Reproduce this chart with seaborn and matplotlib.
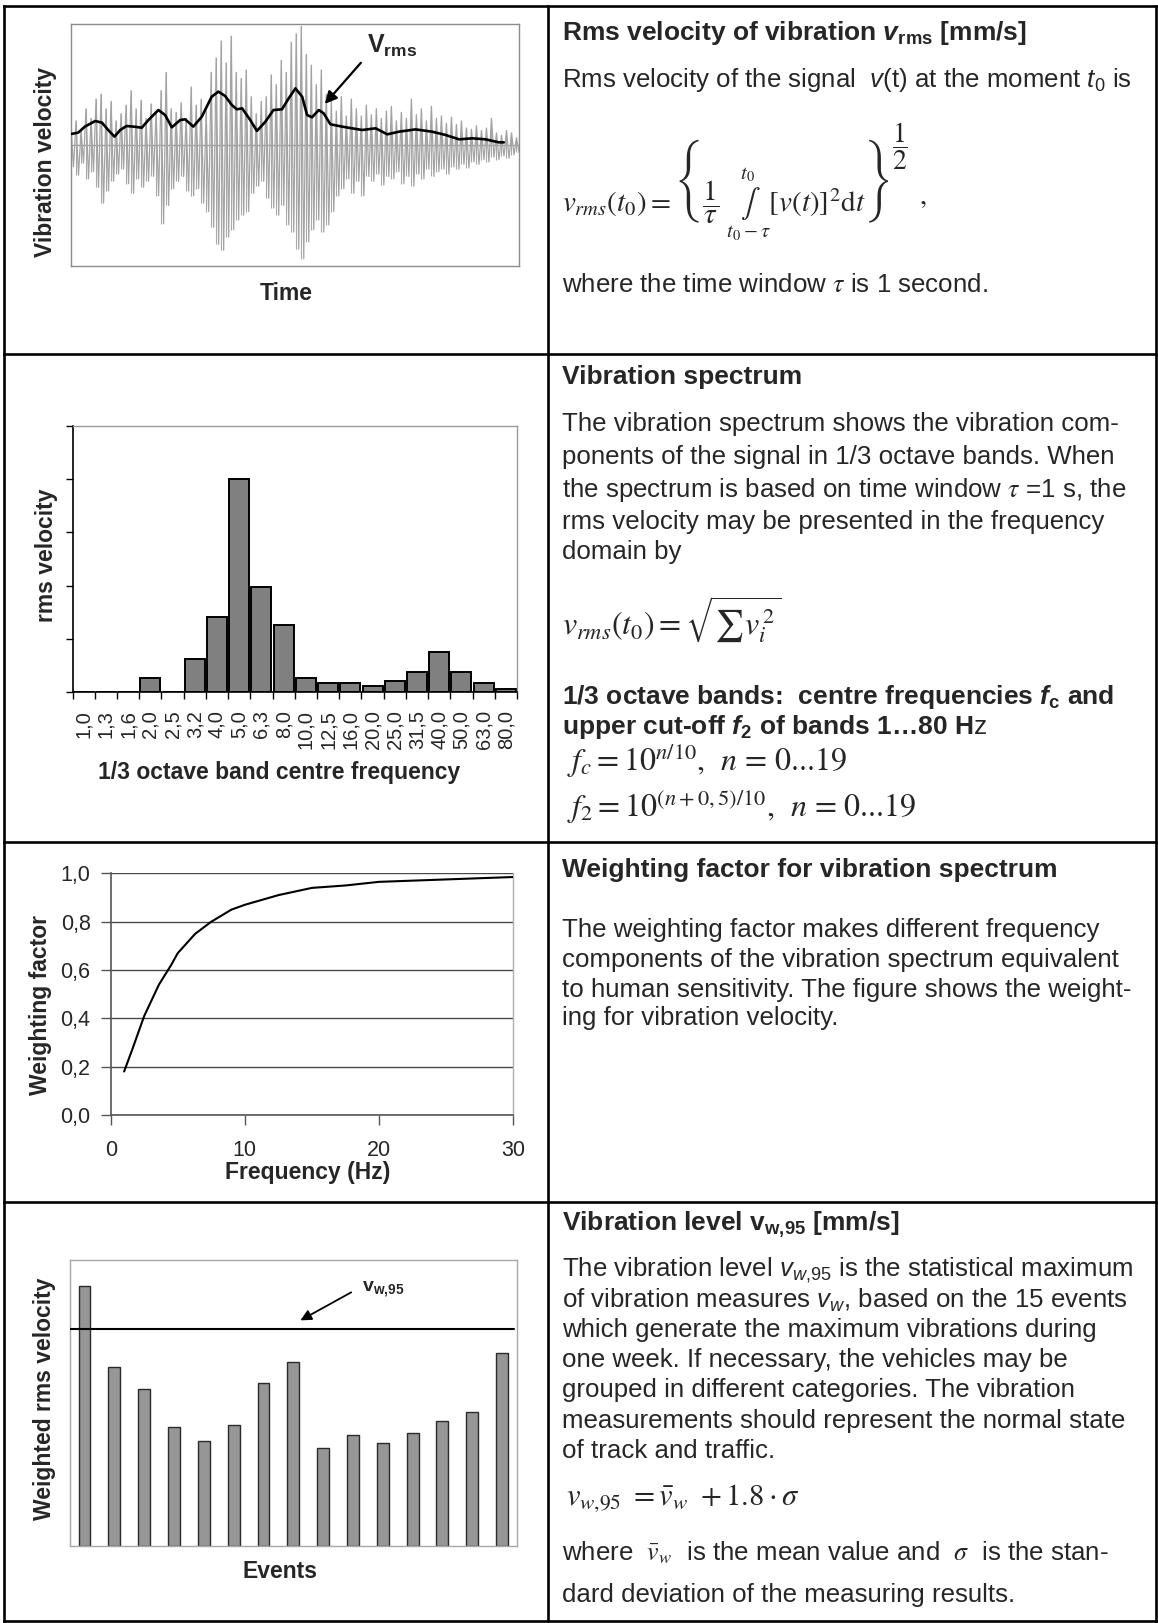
import numpy as np
import pandas as pd
import matplotlib
matplotlib.use("Agg")
import matplotlib.pyplot as plt
import seaborn as sns

# ---------------- data ----------------
# Panel 1: vibration signal, alternating positive / negative peak values (normalised)
signal_pos = [0.15, 0.20, 0.12, 0.30, 0.22, 0.38, 0.42, 0.30, 0.36, 0.20,
              0.26, 0.33, 0.45, 0.30, 0.37, 0.22, 0.34, 0.28, 0.45, 0.60,
              0.30, 0.27, 0.35, 0.22, 0.48, 0.33, 0.38, 0.28, 0.60, 0.72,
              0.86, 0.68, 0.90, 0.60, 0.55, 0.62, 0.40, 0.26, 0.36, 0.40,
              0.58, 0.50, 0.70, 0.60, 0.85, 0.92, 0.98, 0.75, 0.66, 0.50,
              0.62, 0.42, 0.36, 0.28, 0.40, 0.24, 0.38, 0.30, 0.24, 0.33,
              0.25, 0.30, 0.22, 0.28, 0.32, 0.20, 0.27, 0.22, 0.38, 0.25,
              0.30, 0.20, 0.32, 0.22, 0.24, 0.18, 0.23, 0.17, 0.20, 0.14,
              0.13, 0.16, 0.12, 0.14, 0.22, 0.10, 0.08, 0.12, 0.10, 0.06]
signal_neg = [-0.18, -0.25, -0.15, -0.28, -0.22, -0.35, -0.48, -0.38, -0.30, -0.24,
              -0.20, -0.32, -0.40, -0.28, -0.35, -0.30, -0.26, -0.42, -0.65, -0.50,
              -0.36, -0.30, -0.26, -0.38, -0.42, -0.36, -0.48, -0.55, -0.68, -0.82,
              -0.87, -0.76, -0.70, -0.62, -0.58, -0.55, -0.40, -0.34, -0.30, -0.44,
              -0.52, -0.58, -0.50, -0.66, -0.72, -0.86, -0.94, -0.80, -0.70, -0.62,
              -0.72, -0.66, -0.55, -0.42, -0.36, -0.28, -0.40, -0.30, -0.42, -0.26,
              -0.30, -0.24, -0.33, -0.26, -0.28, -0.22, -0.32, -0.26, -0.34, -0.24,
              -0.28, -0.20, -0.26, -0.22, -0.20, -0.24, -0.18, -0.20, -0.16, -0.19,
              -0.14, -0.16, -0.12, -0.14, -0.10, -0.12, -0.09, -0.11, -0.08, -0.06]
rms_time = [0.000, 0.016, 0.031, 0.054, 0.069, 0.083, 0.097, 0.110, 0.124, 0.139,
            0.158, 0.173, 0.195, 0.210, 0.225, 0.244, 0.255, 0.273, 0.292, 0.314,
            0.329, 0.344, 0.359, 0.370, 0.382, 0.400, 0.415, 0.434, 0.452, 0.471,
            0.486, 0.501, 0.516, 0.527, 0.538, 0.553, 0.564, 0.579, 0.605, 0.627,
            0.650, 0.680, 0.706, 0.732, 0.769, 0.806, 0.836, 0.866, 0.896, 0.925,
            0.955, 0.966]
rms_value = [0.091, 0.102, 0.152, 0.198, 0.185, 0.124, 0.069, 0.124, 0.157, 0.152,
             0.143, 0.207, 0.289, 0.248, 0.146, 0.207, 0.212, 0.152, 0.234, 0.399,
             0.441, 0.405, 0.331, 0.295, 0.303, 0.207, 0.116, 0.193, 0.289, 0.295,
             0.386, 0.468, 0.399, 0.248, 0.229, 0.289, 0.262, 0.171, 0.152, 0.138,
             0.124, 0.138, 0.088, 0.110, 0.129, 0.110, 0.083, 0.047, 0.055, 0.047,
             0.022, 0.022]

# Panel 2: 1/3 octave spectrum
band_labels = ["1,0", "1,3", "1,6", "2,0", "2,5", "3,2", "4,0", "5,0", "6,3", "8,0",
               "10,0", "12,5", "16,0", "20,0", "25,0", "31,5", "40,0", "50,0", "63,0", "80,0"]
band_rms = [0.0, 0.0, 0.0, 0.27, 0.0, 0.62, 1.41, 4.00, 1.97, 1.26,
            0.27, 0.16, 0.16, 0.12, 0.20, 0.38, 0.76, 0.38, 0.16, 0.05]

# Panel 3: weighting factor
wf_freq = [1, 1.6, 2.5, 3.6, 4.5, 5, 6.3, 7.5, 9, 10, 12.5, 15, 17.5, 20, 25, 30]
wf_value = [0.18, 0.27, 0.41, 0.54, 0.62, 0.67, 0.75, 0.80, 0.85, 0.87,
            0.91, 0.94, 0.95, 0.965, 0.975, 0.985]
wf_xticks = [0, 10, 20, 30]
wf_yticks = [0.0, 0.2, 0.4, 0.6, 0.8, 1.0]
wf_ylabels = ["0,0", "0,2", "0,4", "0,6", "0,8", "1,0"]

# Panel 4: weighted rms velocity per event
event_ids = list(range(1, 16))
event_values = [9.09, 6.25, 5.50, 4.15, 3.66, 4.22, 5.69, 6.43, 3.43, 3.89,
                3.59, 3.96, 4.38, 4.69, 6.75]
vw95_level = 7.6

# ---------------- style ----------------
sns.set_style("white")
plt.rcParams["font.family"] = ["Liberation Sans", "DejaVu Sans"]
plt.rcParams["mathtext.fontset"] = "custom"
plt.rcParams["mathtext.rm"] = "Liberation Sans"
plt.rcParams["mathtext.it"] = "Liberation Sans:italic"
plt.rcParams["mathtext.bf"] = "Liberation Sans:bold"
plt.rcParams["mathtext.bfit"] = "Liberation Sans:bold:italic"
plt.rcParams["mathtext.sf"] = "Liberation Sans"

W, H = 1158, 1623
fig = plt.figure(figsize=(W / 100, H / 100), dpi=100)
fig.patch.set_facecolor("white")


def axes_px(x0, y0, x1, y1):
    return fig.add_axes([x0 / W, 1 - y1 / H, (x1 - x0) / W, (y1 - y0) / H])


LAB = 16.5

# ---------- Panel 1 ----------
ax1 = axes_px(71, 24, 519, 266)
n = len(signal_pos)
sig_t = np.linspace(0, 1, 2 * n)
sig_v = np.empty(2 * n)
sig_v[0::2] = signal_pos
sig_v[1::2] = signal_neg
sig_df = pd.DataFrame({"t": sig_t, "v": sig_v})
ax1.axhline(0, color="#a0a0a0", lw=1.0, zorder=1)
ax1.vlines(sig_t[0::2], signal_neg, signal_pos, color="#a8a8a8", lw=0.8, zorder=2)
sns.lineplot(data=sig_df, x="t", y="v", sort=False, estimator=None,
             color="#a3a3a3", lw=0.9, ax=ax1, zorder=2)
sns.lineplot(x=rms_time, y=rms_value, sort=False, estimator=None,
             color="black", lw=1.9, ax=ax1, zorder=3)
ax1.set_xlim(0, 1)
ax1.set_ylim(-1, 1)
ax1.set_xticks([]); ax1.set_yticks([])
ax1.set_xlabel(""); ax1.set_ylabel("")
for s in ax1.spines.values():
    s.set_color("#8c8c8c"); s.set_linewidth(1.0); s.set_visible(True)

# ---------- Panel 2 ----------
ax2 = axes_px(72.5, 426, 517, 692)
spec_df = pd.DataFrame({"band": band_labels, "rms": band_rms})
sns.barplot(data=spec_df, x="band", y="rms", color="#808080", saturation=1,
            edgecolor="black", linewidth=1.4, width=0.9, ax=ax2)
ax2.set_ylim(0, 5)
ax2.set_xlim(-0.5, len(band_labels) - 0.5)
ax2.set_yticks(range(6)); ax2.set_yticklabels([])
ax2.tick_params(axis="y", left=True, length=5, width=1, color="black", direction="out")
ax2.set_xticks(range(len(band_labels)))
ax2.set_xticklabels(band_labels, rotation=90, fontsize=14.5)
ax2.tick_params(axis="x", which="major", length=0, pad=13)
ax2.set_xticks(np.arange(-0.5, len(band_labels), 1), minor=True)
ax2.tick_params(axis="x", which="minor", bottom=True, length=5, width=1, color="black", direction="out")
ax2.set_xlabel(""); ax2.set_ylabel("")
for k, s in ax2.spines.items():
    s.set_visible(True)
    s.set_color("black" if k in ("left", "bottom") else "#9a9a9a")
    s.set_linewidth(1.2 if k in ("left", "bottom") else 1.0)

# ---------- Panel 3 ----------
ax3 = axes_px(110.7, 873.4, 513, 1115)
sns.lineplot(x=wf_freq, y=wf_value, color="black", lw=1.5, ax=ax3, zorder=3)
ax3.set_xlim(0, 30)
ax3.set_ylim(0, 1)
ax3.set_xticks(wf_xticks); ax3.set_xticklabels([str(v) for v in wf_xticks])
ax3.set_yticks(wf_yticks); ax3.set_yticklabels(wf_ylabels)
ax3.grid(axis="y", color="#4a4a4a", lw=1.0)
ax3.grid(axis="x", visible=False)
ax3.tick_params(axis="y", left=True, length=7, width=1, color="#555555", pad=7.5, labelsize=15.5)
ax3.tick_params(axis="x", bottom=True, length=7, width=1, color="#555555", pad=11, labelsize=15.5)
ax3.set_xlabel(""); ax3.set_ylabel("")
ax3.spines["top"].set_visible(False)
for k in ("left", "bottom"):
    ax3.spines[k].set_color("#555555"); ax3.spines[k].set_linewidth(1.2)
ax3.spines["right"].set_color("#b0b0b0"); ax3.spines["right"].set_linewidth(1.0)
ax3.spines["right"].set_visible(True)

# ---------- Panel 4 ----------
ax4 = axes_px(69.6, 1260, 517, 1546)
ev_df = pd.DataFrame({"event": event_ids, "value": event_values})
sns.barplot(data=ev_df, x="event", y="value", color="#969696", saturation=1,
            edgecolor="#2a2a2a", linewidth=1.0, width=0.4, ax=ax4)
ax4.axhline(vw95_level, xmin=0, xmax=0.994, color="black", lw=1.5, zorder=4)
ax4.set_ylim(0, 10)
ax4.set_xlim(-0.5, len(event_ids) - 0.5)
ax4.set_xticks([]); ax4.set_yticks([])
ax4.set_xlabel(""); ax4.set_ylabel("")
for s in ax4.spines.values():
    s.set_visible(True); s.set_color("#a8a8a8"); s.set_linewidth(1.0)

# ---------- overlay: table, labels, text ----------
ov = fig.add_axes([0, 0, 1, 1], zorder=10)
ov.set_xlim(0, W); ov.set_ylim(H, 0)
ov.axis("off")
ov.patch.set_alpha(0)

BL = dict(color="black", lw=1.9, solid_capstyle="projecting")
ov.plot([3.5, 1155.5], [6, 6], **BL)
ov.plot([3.5, 1155.5], [1620.5, 1620.5], **BL)
ov.plot([3.5, 3.5], [6, 1620.5], **BL)
ov.plot([1155.5, 1155.5], [6, 1620.5], **BL)
ov.plot([548, 548], [6, 1620.5], **BL)
for yy in (354, 842, 1202):
    ov.plot([3.5, 1155.5], [yy, yy], **BL)

# axis labels
ov.text(46, 162, "Vibration velocity", rotation=90, fontsize=LAB, fontweight="bold", ha="center", va="center")
ov.text(286, 293, "Time", fontsize=LAB, fontweight="bold", ha="center", va="center")
ov.text(46, 555, "rms velocity", rotation=90, fontsize=LAB, fontweight="bold", ha="center", va="center")
ov.text(279, 772, "1/3 octave band centre frequency", fontsize=LAB, fontweight="bold", ha="center", va="center")
ov.text(41, 1005, "Weighting factor", rotation=90, fontsize=LAB, fontweight="bold", ha="center", va="center")
ov.text(308, 1173, "Frequency (Hz)", fontsize=LAB, fontweight="bold", ha="center", va="center")
ov.text(44.6, 1399, "Weighted rms velocity", rotation=90, fontsize=LAB, fontweight="bold", ha="center", va="center")
ov.text(280, 1572, "Events", fontsize=LAB, fontweight="bold", ha="center", va="center")

# annotations
ov.text(367, 53, r"$\mathbf{V}_{\mathbf{rms}}$", fontsize=18, ha="left", va="baseline")
ov.annotate("", xy=(323, 106), xytext=(362.7, 60.7),
            arrowprops=dict(arrowstyle="-|>", color="black", lw=1.6, mutation_scale=18))
ov.text(362, 1291.7, r"$\mathbf{v}_{\mathbf{w{,}95}}$", fontsize=14, ha="left", va="baseline")
ov.annotate("", xy=(298, 1321.7), xytext=(353.6, 1291),
            arrowprops=dict(arrowstyle="-|>", color="black", lw=1.3, mutation_scale=16))

TX = 562
BODY = 18.6
TIT = 19


def body(y, s, **kw):
    ov.text(TX, y, s, fontsize=BODY, ha="left", va="center", **kw)


def title(y, s):
    ov.text(TX, y, s, fontsize=TIT, fontweight="bold", ha="left", va="center")


# row 1
title(33, r"Rms velocity of vibration $\mathbfit{v}_{\mathbf{rms}}$ [mm/s]")
body(80, r"Rms velocity of the signal  $v$(t) at the moment $t_0$ is")
f1 = ov.text(TX, 190,
             r"$v_{rms}(t_0) = \left\{\dfrac{1}{\tau}\;\underset{t_0-\tau}{\overset{t_0}{\int}}\left[v(t)\right]^2\mathrm{d}t\right\}$",
             fontsize=21, ha="left", va="center", math_fontfamily="stix")
fig.canvas.draw()
bb = f1.get_window_extent()
inv = ov.transData.inverted()
(fx0, fya), (fx1, fyb) = inv.transform([[bb.x0, bb.y0], [bb.x1, bb.y1]])
f_top = min(fya, fyb)
ov.text(fx1 + 3, f_top + 9, r"$\dfrac{1}{2}$", fontsize=20, ha="left", va="center",
        math_fontfamily="stix")
ov.text(fx1 + 30, 198, ",", fontsize=20, ha="left", va="center", family="STIXGeneral")
body(285, r"where the time window $\tau$ is 1 second.", math_fontfamily="stix")

# row 2
title(377, "Vibration spectrum")
for yy, line in zip((424, 457, 490, 522, 552),
                    [r"The vibration spectrum shows the vibration com-",
                     r"ponents of the signal in 1/3 octave bands. When",
                     r"the spectrum is based on time window $\tau$ =1 s, the",
                     r"rms velocity may be presented in the frequency",
                     r"domain by"]):
    body(yy, line, math_fontfamily="stix")
ov.text(TX, 620, r"$v_{rms}(t_0) = \sqrt{\sum v_i^{\,2}}$", fontsize=23, ha="left", va="center",
        math_fontfamily="stix")
title(697, r"1/3 octave bands:  centre frequencies $\mathbfit{f}_{\mathbf{c}}$ and")
title(727, r"upper cut-off $\mathbfit{f}_{\mathbf{2}}$ of bands 1…80 H$\mathrm{z}$")
ov.text(567, 761, r"$f_c = 10^{n/10}$,  $n$ = 0...19", fontsize=23, ha="left", va="center",
        family="STIXGeneral", math_fontfamily="stix")
ov.text(567, 807, r"$f_2 = 10^{(n+0,5)/10}$,  $n$ = 0...19", fontsize=23, ha="left", va="center",
        family="STIXGeneral", math_fontfamily="stix")

# row 3
title(870, "Weighting factor for vibration spectrum")
for yy, line in zip((930, 960, 990, 1018),
                    ["The weighting factor makes different frequency",
                     "components of the vibration spectrum equivalent",
                     "to human sensitivity. The figure shows the weight-",
                     "ing for vibration velocity."]):
    body(yy, line)

# row 4
title(1225, r"Vibration level $\mathbf{v}_{\mathbf{w{,}95}}$ [mm/s]")
for yy, line in zip((1270, 1300, 1330, 1360, 1390, 1421, 1451),
                    [r"The vibration level $\mathit{v}_{\mathit{w{,}95}}$ is the statistical maximum",
                     r"of vibration measures $\mathit{v}_{\mathit{w}}$, based on the 15 events",
                     "which generate the maximum vibrations during",
                     "one week. If necessary, the vehicles may be",
                     "grouped in different categories. The vibration",
                     "measurements should represent the normal state",
                     "of track and traffic."]):
    body(yy, line)
ov.text(566, 1498, r"$v_{w{,}95}\ = \bar{v}_w\ + 1.8\cdot\sigma$", fontsize=22, ha="left", va="center",
        math_fontfamily="stix")
body(1553, r"where  $\bar{v}_w$  is the mean value and  $\sigma$  is the stan-", math_fontfamily="stix")
body(1595, "dard deviation of the measuring results.")

fig.savefig("out.png", dpi=100, facecolor="white")
